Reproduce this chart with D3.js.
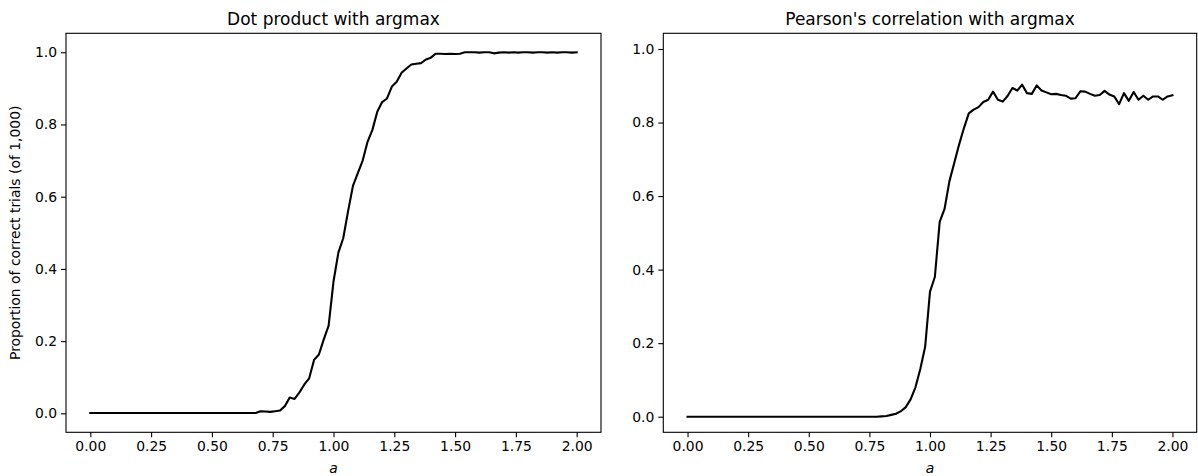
<!DOCTYPE html>
<html>
<head>
<meta charset="utf-8">
<script src="https://cdn.jsdelivr.net/npm/d3@7"></script>
<style>
  body { margin: 0; background: #fff; }
  text { font-family: "DejaVu Sans", sans-serif; fill: #000; }
</style>
</head>
<body>
<div id="chart-area"></div>
<script>
var aValues = d3.range(101).map(i => +(i * 0.02).toFixed(2));

var dotValues = [
    0.001, 0.001, 0.001, 0.001, 0.001, 0.001, 0.001, 0.001, 0.001, 0.001,
    0.001, 0.001, 0.001, 0.001, 0.001, 0.001, 0.001, 0.001, 0.001, 0.001,
    0.001, 0.001, 0.001, 0.001, 0.001, 0.001, 0.001, 0.001, 0.001, 0.001,
    0.001, 0.001, 0.001, 0.001, 0.001, 0.006, 0.005, 0.004, 0.006, 0.008,
    0.020, 0.044, 0.040, 0.058, 0.080, 0.097, 0.148, 0.163, 0.205, 0.243,
    0.365, 0.445, 0.485, 0.560, 0.630, 0.665, 0.700, 0.752, 0.785, 0.835,
    0.862, 0.872, 0.905, 0.918, 0.943, 0.955, 0.966, 0.968, 0.970, 0.980,
    0.985, 0.996, 0.996, 0.995, 0.996, 0.995, 0.996, 1.000, 1.000, 1.000,
    0.999, 1.000, 1.000, 0.997, 0.999, 1.000, 0.999, 1.000, 0.999, 1.000,
    1.000, 0.999, 1.000, 1.000, 0.999, 1.000, 0.999, 1.000, 1.000, 0.999,
    1.000
];

var pearsonValues = [
    0, 0, 0, 0, 0, 0, 0, 0, 0, 0,
    0, 0, 0, 0, 0, 0, 0, 0, 0, 0,
    0, 0, 0, 0, 0, 0, 0, 0, 0, 0,
    0, 0, 0, 0, 0, 0, 0, 0, 0, 0,
    0.001, 0.002, 0.005, 0.008, 0.015, 0.026, 0.047, 0.080, 0.130, 0.190,
    0.340, 0.380, 0.530, 0.565, 0.640, 0.690, 0.740, 0.785, 0.825, 0.835,
    0.842, 0.856, 0.862, 0.884, 0.862, 0.857, 0.872, 0.894, 0.887, 0.903,
    0.880, 0.878, 0.901, 0.887, 0.882, 0.877, 0.878, 0.875, 0.873, 0.865,
    0.866, 0.885, 0.884, 0.878, 0.873, 0.875, 0.886, 0.876, 0.871, 0.850,
    0.880, 0.859, 0.883, 0.862, 0.873, 0.862, 0.871, 0.871, 0.862, 0.871,
    0.874
];

var titles = ["Dot product with argmax", "Pearson's correlation with argmax"];
var xTicks = [0, 0.25, 0.5, 0.75, 1, 1.25, 1.5, 1.75, 2];
var yTicks = [0, 0.2, 0.4, 0.6, 0.8, 1.0];
var yLabel = "Proportion of correct trials (of 1,000)";
var xLabel = "a";

var width = 1198, height = 476;

var svg = d3.select("#chart-area")
    .append("svg")
    .attr("width", width)
    .attr("height", height)
    .style("display", "block");

var panels = [
    { left: 66, right: 601, top: 33.3, bottom: 432.3, yDomain: [-0.0525, 1.0525], values: dotValues, title: titles[0] },
    { left: 663.3, right: 1196.7, top: 33.3, bottom: 432.3, yDomain: [-0.0424, 1.0427], values: pearsonValues, title: titles[1] }
];

panels.forEach((p, i) => {
    var x = d3.scaleLinear().domain([-0.1, 2.1]).range([p.left, p.right]);
    var y = d3.scaleLinear().domain(p.yDomain).range([p.bottom, p.top]);

    var g = svg.append("g");

    var xAxis = d3.axisBottom(x)
        .tickValues(xTicks)
        .tickFormat(d3.format(".2f"))
        .tickSizeInner(5)
        .tickSizeOuter(0)
        .tickPadding(4);

    var yAxis = d3.axisLeft(y)
        .tickValues(yTicks)
        .tickFormat(d3.format(".1f"))
        .tickSizeInner(5)
        .tickSizeOuter(0)
        .tickPadding(4);

    g.append("g")
        .attr("transform", `translate(0,${p.bottom})`)
        .call(xAxis)
        .call(s => s.select(".domain").remove());

    g.append("g")
        .attr("transform", `translate(${p.left},0)`)
        .call(yAxis)
        .call(s => s.select(".domain").remove());

    g.selectAll(".tick text")
        .attr("font-size", "13.9px")
        .attr("font-family", "DejaVu Sans")
        .attr("fill", "#000");
    g.selectAll(".tick line").attr("stroke", "#000").attr("stroke-width", 1.1);

    var line = d3.line()
        .x((d, j) => x(aValues[j]))
        .y(d => y(d));

    g.append("path")
        .datum(p.values)
        .attr("fill", "none")
        .attr("stroke", "#000")
        .attr("stroke-width", 2.1)
        .attr("stroke-linejoin", "round")
        .attr("stroke-linecap", "square")
        .attr("d", line);

    g.append("rect")
        .attr("x", p.left)
        .attr("y", p.top)
        .attr("width", p.right - p.left)
        .attr("height", p.bottom - p.top)
        .attr("fill", "none")
        .attr("stroke", "#000")
        .attr("stroke-width", 1.1);

    g.append("text")
        .attr("x", (p.left + p.right) / 2)
        .attr("y", 25)
        .attr("text-anchor", "middle")
        .attr("font-size", "17px")
        .text(p.title);

    g.append("text")
        .attr("x", (p.left + p.right) / 2)
        .attr("y", 473)
        .attr("text-anchor", "middle")
        .attr("font-size", "13.9px")
        .attr("font-style", "italic")
        .text(xLabel);

    if (i === 0) {
        g.append("text")
            .attr("transform", "rotate(-90)")
            .attr("x", -(p.top + p.bottom) / 2)
            .attr("y", 20)
            .attr("text-anchor", "middle")
            .attr("font-size", "13.9px")
            .text(yLabel);
    }
});
</script>
</body>
</html>
